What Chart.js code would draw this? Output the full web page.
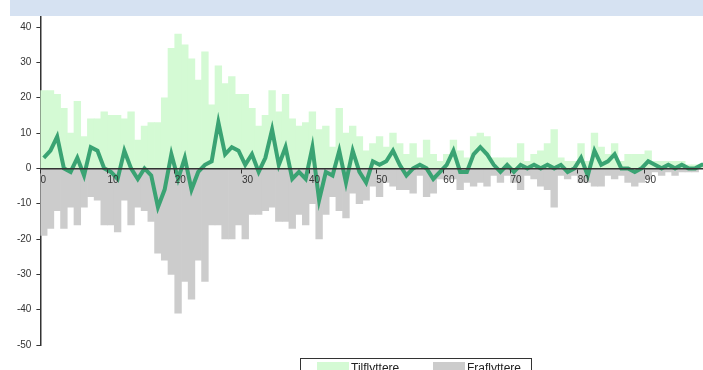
<!DOCTYPE html>
<html lang="no">
<head>
<meta charset="UTF-8">
<title>Flytting etter alder</title>
<script src="https://cdn.jsdelivr.net/npm/chart.js@4.4.1/dist/chart.umd.min.js"></script>
<style>
    html, body { margin: 0; padding: 0; overflow: hidden; background: #fff; width: 703px; height: 370px; }
    #band { position: absolute; left: 10px; top: 0; width: 720px; height: 16px; background: #d6e2f2; }
    #wrap { position: absolute; left: 0; top: 0; width: 712px; height: 370px; }
    #legend { position: absolute; left: 300px; top: 358px; width: 230px; height: 30px;
              border: 1px solid #333; font: 12px "Liberation Sans", Arial, sans-serif; color: #222; }
    #legend .sw { position: absolute; top: 3px; width: 32px; height: 20px; }
    #legend .tx { position: absolute; top: 2px; line-height: 14px; }
</style>
<script>
    // alder 0-99
    const alder = [
        0, 1, 2, 3, 4, 5, 6, 7, 8, 9, 10, 11, 12, 13, 14, 15, 16, 17, 18, 19,
        20, 21, 22, 23, 24, 25, 26, 27, 28, 29, 30, 31, 32, 33, 34, 35, 36, 37, 38, 39,
        40, 41, 42, 43, 44, 45, 46, 47, 48, 49, 50, 51, 52, 53, 54, 55, 56, 57, 58, 59,
        60, 61, 62, 63, 64, 65, 66, 67, 68, 69, 70, 71, 72, 73, 74, 75, 76, 77, 78, 79,
        80, 81, 82, 83, 84, 85, 86, 87, 88, 89, 90, 91, 92, 93, 94, 95, 96, 97, 98, 99
    ];
    const tilflyttere = [
        22, 22, 21, 17, 10, 19, 9, 14, 14, 16, 15, 15, 14, 16, 8, 12, 13, 13, 20, 34,
        38, 35, 31, 25, 33, 18, 29, 24, 26, 21, 21, 17, 12, 15, 22, 16, 21, 14, 12, 13,
        16, 11, 12, 6, 17, 10, 12, 9, 5, 7, 9, 6, 10, 7, 4, 7, 3, 8, 4, 2,
        4, 8, 5, 3, 9, 10, 9, 3, 3, 3, 3, 7, 2, 4, 5, 7, 11, 3, 2, 2,
        7, 2, 10, 6, 4, 7, 2, 4, 4, 4, 5, 2, 2, 2, 2, 2, 1, 1, 1, 1
    ];
    const fraflyttere = [
        -19, -17, -12, -17, -11, -16, -11, -8, -9, -16, -16, -18, -9, -16, -11, -12, -15, -24, -26, -30,
        -41, -32, -37, -26, -32, -16, -16, -20, -20, -16, -20, -13, -13, -12, -11, -15, -15, -17, -13, -16,
        -10, -20, -13, -8, -12, -14, -7, -10, -9, -5, -8, -4, -5, -6, -6, -7, -2, -8, -7, -3,
        -3, -3, -6, -4, -5, -4, -5, -2, -4, -2, -4, -6, -2, -3, -5, -6, -11, -2, -3, -2,
        -4, -4, -5, -5, -2, -3, -2, -4, -5, -4, -3, -1, -2, -1, -2, -1, -1, -1, 0, 0
    ];
    const netto = [
        3, 5, 9, 0, -1, 3, -2, 6, 5, 0, -1, -3, 5, 0, -3, 0, -2, -11, -6, 4,
        -3, 3, -6, -1, 1, 2, 13, 4, 6, 5, 1, 4, -1, 3, 11, 1, 6, -3, -1, -3,
        6, -9, -1, -2, 5, -4, 5, -1, -4, 2, 1, 2, 5, 1, -2, 0, 1, 0, -3, -1,
        1, 5, -1, -1, 4, 6, 4, 1, -1, 1, -1, 1, 0, 1, 0, 1, 0, 1, -1, 0,
        3, -2, 5, 1, 2, 4, 0, 0, -1, 0, 2, 1, 0, 1, 0, 1, 0, 0, 1, 1
    ];
    const xTicks = [0, 10, 20, 30, 40, 50, 60, 70, 80, 90];
    const yTicks = [-50, -40, -30, -20, -10, 0, 10, 20, 30, 40];

    function punkter(verdier) {
        // søylen for alder a står midt i [a, a+1]
        return alder.map((a, i) => ({ x: a + 0.5, y: verdier[i] }));
    }

    window.addEventListener('DOMContentLoaded', function () {
        Chart.defaults.font.family = '"Liberation Sans", Arial, sans-serif';
        Chart.defaults.font.size = 10;
        Chart.defaults.color = '#333';

        new Chart(document.getElementById('chart'), {
            type: 'bar',
            data: {
                datasets: [{
                    type: 'line',
                    label: 'Netto',
                    data: punkter(netto),
                    borderColor: '#3aa373',
                    borderWidth: 4,
                    pointRadius: 0,
                    tension: 0,
                    order: 0
                }, {
                    label: 'Tilflyttere',
                    data: punkter(tilflyttere),
                    backgroundColor: '#d4fad4',
                    grouped: false,
                    barPercentage: 1,
                    categoryPercentage: 1,
                    order: 1
                }, {
                    label: 'Fraflyttere',
                    data: punkter(fraflyttere),
                    backgroundColor: '#cccccc',
                    grouped: false,
                    barPercentage: 1,
                    categoryPercentage: 1,
                    order: 1
                }]
            },
            options: {
                responsive: true,
                maintainAspectRatio: false,
                animation: false,
                layout: { padding: { top: 16.5, bottom: 25, left: 0, right: 0 } },
                plugins: { legend: { display: false }, tooltip: { enabled: false } },
                scales: {
                    x: {
                        type: 'linear',
                        min: 0,
                        max: 100,
                        offset: false,
                        position: { y: 0 },
                        afterBuildTicks: s => { s.ticks = xTicks.map(v => ({ value: v })); },
                        // aksen og tallene tegnes over søylene
                        grid: { offset: false, drawOnChartArea: false, tickLength: 4, color: '#333', z: 1 },
                        border: { color: '#333', width: 1.5, z: 1 },
                        ticks: { align: 'start', padding: 2, maxRotation: 0, autoSkip: false, z: 1 }
                    },
                    y: {
                        min: -50,
                        max: 43,
                        afterBuildTicks: s => { s.ticks = yTicks.map(v => ({ value: v })); },
                        afterFit: s => { s.width = 40.4; },
                        grid: { drawOnChartArea: false, tickLength: 4, color: '#333' },
                        border: { color: '#333', width: 1.5 },
                        ticks: { padding: 5 }
                    }
                }
            }
        });
    });
</script>
</head>
<body>
    <div id="band"></div>
    <div id="wrap"><canvas id="chart"></canvas></div>
    <div id="legend">
        <div class="sw" style="left:16px;background:#d4fad4"></div>
        <span class="tx" style="left:50px">Tilflyttere</span>
        <div class="sw" style="left:132px;background:#cccccc"></div>
        <span class="tx" style="left:166px">Fraflyttere</span>
    </div>
</body>
</html>
